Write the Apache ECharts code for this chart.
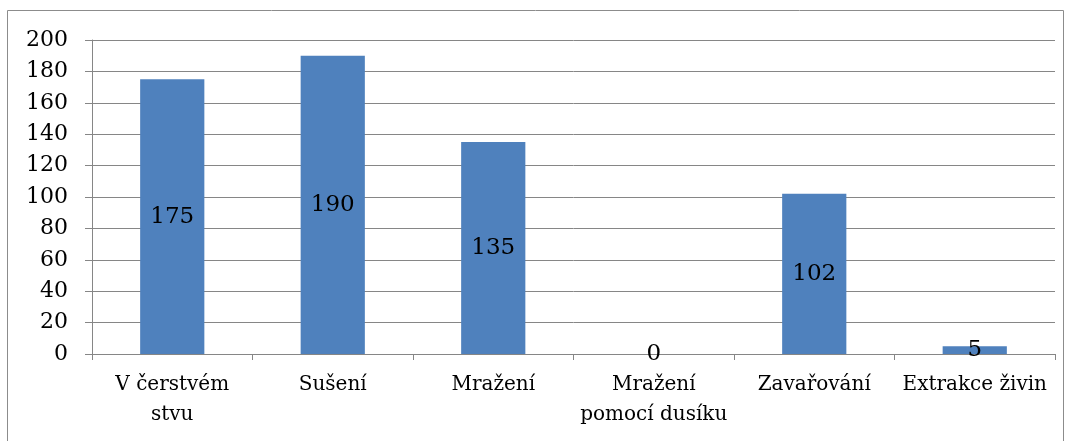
<!DOCTYPE html>
<html>
<head>
<meta charset="utf-8">
<script src="https://cdn.jsdelivr.net/npm/echarts@6/dist/echarts.min.js"></script>
<style>
  html, body { margin: 0; padding: 0; background: #fff; }
  #chart { width: 1072px; height: 441px; }
</style>
</head>
<body>
<div id="chart"></div>
<script>
// data
const categories = ['V čerstvém\nstvu', 'Sušení', 'Mražení', 'Mražení\npomocí dusíku', 'Zavařování', 'Extrakce živin']
const values = [175, 190, 135, 0, 102, 5]

const font = 'DejaVu Serif'
const chart = echarts.init(document.getElementById('chart'))

const option = {
  animation: false,
  // outer frame of the chart
  graphic: [{
    type: 'rect',
    shape: { x: 7.5, y: 10.5, width: 1056, height: 440 },
    style: { fill: 'none', stroke: '#8c8c8c', lineWidth: 1 }
  }],
  grid: { left: 92, right: 17, top: 40, bottom: 87 },
  xAxis: {
    type: 'category',
    data: categories,
    axisLine: { lineStyle: { color: '#868686' } },
    axisTick: { show: true, length: 6, lineStyle: { color: '#868686' } },
    axisLabel: {
      color: '#000',
      fontFamily: font,
      fontSize: 20,
      lineHeight: 30,
      margin: 16,
      interval: 0
    }
  },
  yAxis: {
    type: 'value',
    min: 0,
    max: 200,
    interval: 20,
    axisLine: { show: true, lineStyle: { color: '#868686' } },
    axisTick: { show: true, length: 7, lineStyle: { color: '#868686' } },
    splitLine: { lineStyle: { color: '#868686' } },
    axisLabel: {
      color: '#000',
      fontFamily: font,
      fontSize: 22,
      margin: 24
    }
  },
  series: [{
    type: 'bar',
    data: values,
    barWidth: '40%',
    itemStyle: { color: '#4f81bd' },
    label: {
      show: true,
      position: 'inside',
      color: '#000',
      fontFamily: font,
      fontSize: 23
    }
  }]
}
chart.setOption(option)
</script>
</body>
</html>
